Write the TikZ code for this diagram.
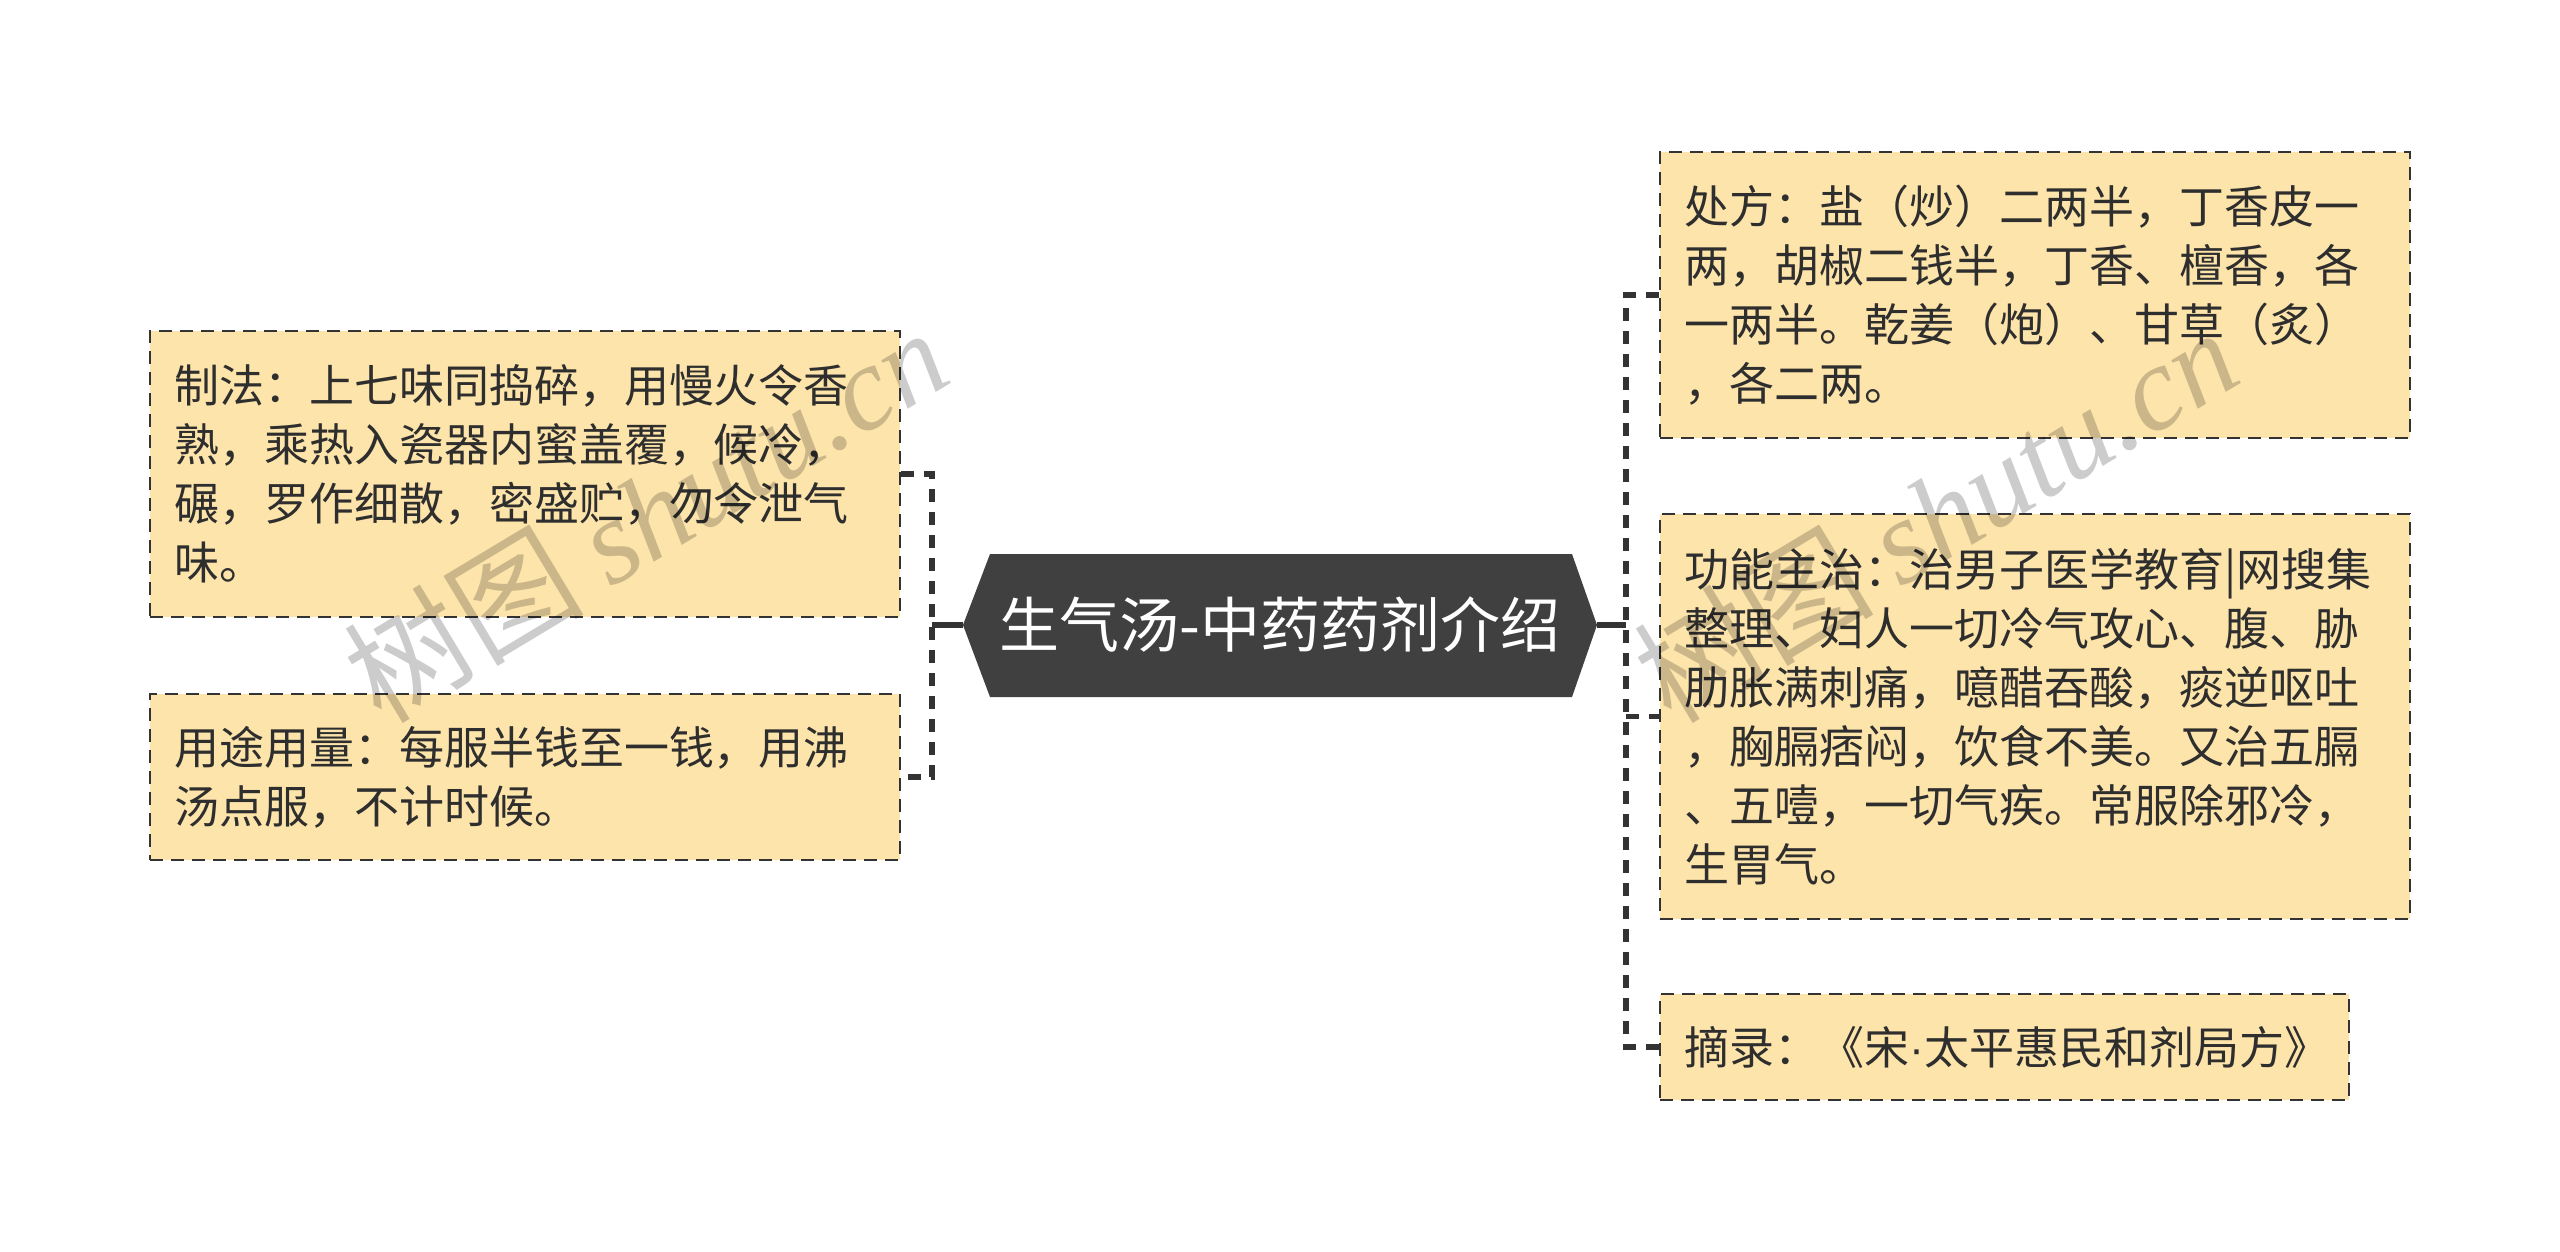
\documentclass[tikz,border=0pt]{standalone}
\usepackage{fontspec}
\setmainfont{Noto Sans CJK SC}
\newfontfamily\wmserif{Liberation Serif}
\newfontfamily\latinsans{Liberation Sans}
\newfontfamily\cjk{Noto Sans CJK SC}
\definecolor{boxfill}{HTML}{FDE4AA}
\definecolor{edgecol}{HTML}{333333}
\definecolor{hubcol}{HTML}{404040}
\definecolor{txtcol}{HTML}{2E2E2E}
\tikzset{
  leaf/.style={draw=edgecol, line width=1.3pt, dash pattern=on 6.5pt off 4pt,
    fill=boxfill, rectangle, inner sep=0pt, align=left, text=txtcol,
    font=\fontsize{22.5pt}{29.5pt}\selectfont},
  solidconn/.style={draw=edgecol, line width=2.8pt},
  dashconn/.style={draw=edgecol, line width=2.8pt, dash pattern=on 6.5pt off 5pt},
  wmark/.style={text=black, text opacity=0.2, font=\fontsize{60pt}{64pt}\selectfont, inner sep=0pt}
}
\begin{document}
\begin{tikzpicture}[x=0.5pt,y=-0.5pt]
\useasboundingbox[fill=white] (0,0) rectangle (2560,1252);

% hub
\fill[hubcol] (963,625) -- (990,554) -- (1572,554) -- (1597,625) -- (1572,697) -- (990,697) -- cycle;
\node[text=white, font=\fontsize{30pt}{34pt}\selectfont, inner sep=0pt] (hub) at (1280,625) {生气汤-中药药剂介绍};
\coordinate (hubW) at (963,625);
\coordinate (hubE) at (1597,625);
\coordinate (jl) at (932,625);
\coordinate (jr) at (1626,625);

% left leaves
\node[leaf, minimum width=375pt, minimum height=143pt, text width=351pt] (l1) at (525,474)
 {制法：上七味同捣碎，用慢火令香\\熟，乘热入瓷器内蜜盖覆，候冷，\\碾，罗作细散，密盛贮，勿令泄气\\味。};
\node[leaf, minimum width=375pt, minimum height=83pt, text width=351pt] (l2) at (525,777)
 {用途用量：每服半钱至一钱，用沸\\汤点服，不计时候。};

% right leaves
\node[leaf, minimum width=375pt, minimum height=143pt, text width=351pt] (r1) at (2035,295)
 {处方：盐（炒）二两半，丁香皮一\\两，胡椒二钱半，丁香、檀香，各\\一两半。乾姜（炮）、甘草（炙）\\，各二两。};
\node[leaf, minimum width=375pt, minimum height=202.5pt, text width=351pt] (r2) at (2035,716.5)
 {功能主治：治男子医学教育|网搜集\\整理、妇人一切冷气攻心、腹、胁\\肋胀满刺痛，噫醋吞酸，痰逆呕吐\\，胸膈痞闷，饮食不美。又治五膈\\、五噎，一切气疾。常服除邪冷，\\生胃气。};
\node[leaf, minimum width=344.5pt, minimum height=53pt, text width=320.5pt] (r3) at (2004.5,1047)
 {摘录：《宋{\latinsans ·}太平惠民和剂局方》};

% connectors left
\draw[solidconn] (hubW) -- (jl);
\draw[dashconn] (l1.east) -- (l1.east -| jl) -- (l2.east -| jl) -- (l2.east);

% connectors right
\draw[solidconn] (hubE) -- (jr);
\draw[dashconn] (r1.west) -- (r1.west -| jr) -- (r3.west -| jr) -- (r3.west);
\draw[dashconn] (r2.west -| jr) -- (r2.west);

% watermarks
\node[wmark, rotate=31] (wm1) at (645,514) {\cjk 树图 \wmserif\itshape shutu.cn};
\node[wmark, rotate=31] (wm2) at (1935,514) {\cjk 树图 \wmserif\itshape shutu.cn};
\end{tikzpicture}
\end{document}
